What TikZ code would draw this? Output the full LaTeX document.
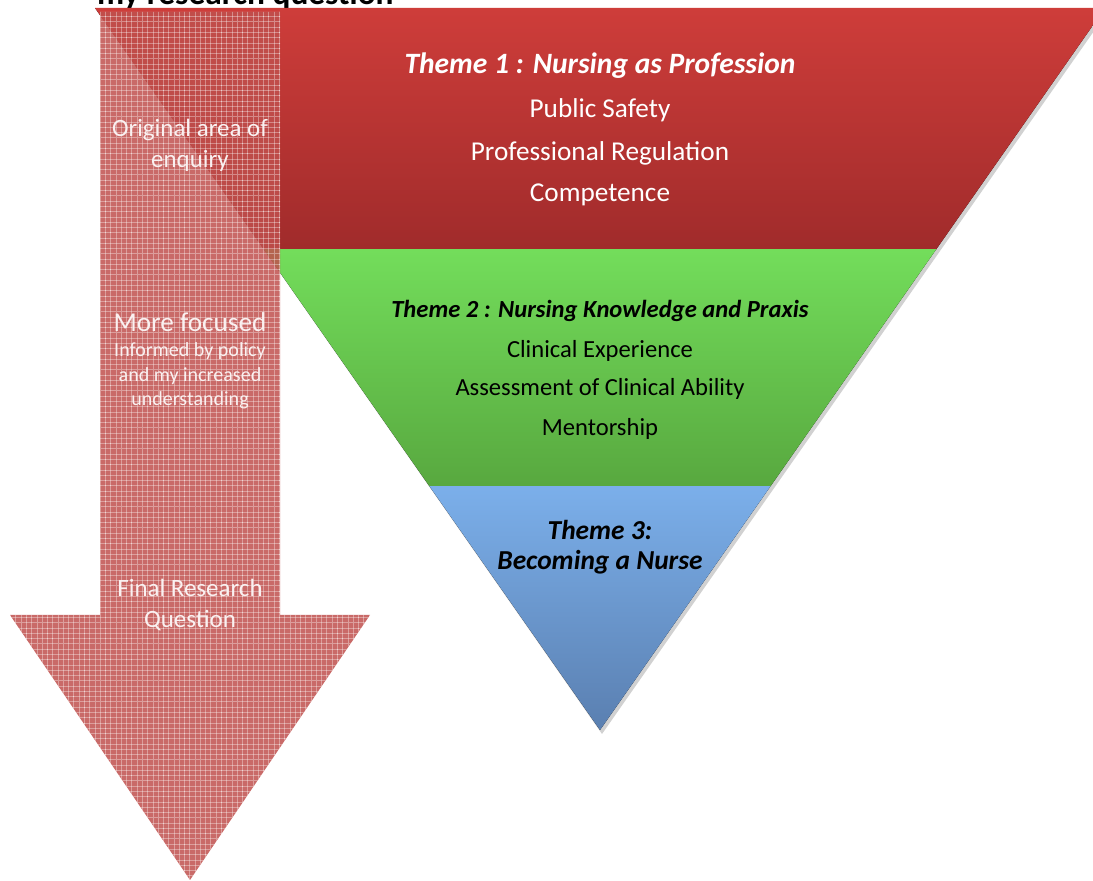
\documentclass[tikz,border=0pt]{standalone}
\usepackage{fontspec}
\setmainfont{Carlito}
\usepackage{tikz}
\usetikzlibrary{positioning, patterns}
\definecolor{redtop}{RGB}{206,61,58}
\definecolor{redbot}{RGB}{160,43,43}
\definecolor{greentop}{RGB}{115,221,91}
\definecolor{greenbot}{RGB}{88,168,63}
\definecolor{bluetop}{RGB}{123,175,234}
\definecolor{bluebot}{RGB}{90,127,176}
\definecolor{arrowred}{RGB}{192,80,77}
\tikzstyle{themetitle} = [font=\fontsize{16.8}{20}\selectfont\bfseries\itshape, inner sep=0pt]
\tikzstyle{redline} = [font=\fontsize{15.5}{19}\selectfont, text=white, inner sep=0pt]
\tikzstyle{greenline} = [font=\fontsize{14}{17}\selectfont, text=black, inner sep=0pt]
\tikzstyle{arrowtext} = [font=\fontsize{14.2}{17}\selectfont, text=white!92!arrowred, inner sep=0pt]
\tikzstyle{arrowsmall} = [font=\fontsize{11.4}{14}\selectfont, text=white!92!arrowred, inner sep=0pt]
\tikzstyle{bigarrow} = [fill=arrowred, opacity=0.85]
\tikzstyle{arrowgrid} = [pattern=grid, pattern color=white, opacity=0.35]

\begin{document}
\begin{tikzpicture}[x=0.02cm, y=-0.02cm]
		\useasboundingbox (0,0) rectangle (1093,881);
		\node (Header) [anchor=base east, inner sep=0pt, font=\fontsize{19}{22}\selectfont\bfseries] at (394,5) {my research question};
		\fill [black, opacity=0.18] (97,11) -- (1108,11) -- (602,734) -- cycle;
		\begin{scope}
			\clip (95,8) -- (1105,8) -- (600,730) -- cycle;
			\fill [top color=redtop, bottom color=redbot] (90,8) rectangle (1110,250);
			\fill [top color=greentop, bottom color=greenbot] (90,250) rectangle (1110,487);
			\fill [top color=bluetop, bottom color=bluebot] (90,487) rectangle (1110,731);
		\end{scope}
		\fill [bigarrow] (100,12) -- (280,12) -- (280,615) -- (370,615) -- (190,880) -- (10,615) -- (100,615) -- cycle;
		\fill [arrowgrid] (100,12) -- (280,12) -- (280,615) -- (370,615) -- (190,880) -- (10,615) -- (100,615) -- cycle;
		\node (ThemeOne) [themetitle, text=white, anchor=base] at (600,74) {Theme 1 : Nursing as Profession};
		\node (PublicSafety) [redline, below = 0.88cm of ThemeOne.base, anchor=base] {Public Safety};
		\node (Regulation) [redline, below = 0.86cm of PublicSafety.base, anchor=base] {Professional Regulation};
		\node (Competence) [redline, below = 0.82cm of Regulation.base, anchor=base] {Competence};
		\node (ThemeTwo) [themetitle, font=\fontsize{14}{17}\selectfont\bfseries\itshape, anchor=base] at (600,318) {Theme 2 : Nursing Knowledge and Praxis};
		\node (Experience) [greenline, below = 0.8cm of ThemeTwo.base, anchor=base] {Clinical Experience};
		\node (Assessment) [greenline, below = 0.76cm of Experience.base, anchor=base] {Assessment of Clinical Ability};
		\node (Mentorship) [greenline, below = 0.8cm of Assessment.base, anchor=base] {Mentorship};
		\node (ThemeThree) [themetitle, font=\fontsize{15.6}{19}\selectfont\bfseries\itshape, anchor=base] at (600,540) {Theme 3:};
		\node (Becoming) [themetitle, font=\fontsize{15.6}{19}\selectfont\bfseries\itshape, below = 0.6cm of ThemeThree.base, anchor=base] {Becoming a Nurse};
		\node (Original) [arrowtext, anchor=base] at (190,137) {Original area of};
		\node (Enquiry) [arrowtext, below = 0.62cm of Original.base, anchor=base] {enquiry};
		\node (Focused) [arrowtext, font=\fontsize{15.5}{19}\selectfont, anchor=base] at (190,332) {More focused};
		\node (Policy) [arrowsmall, below = 0.5cm of Focused.base, anchor=base] {Informed by policy};
		\node (Increased) [arrowsmall, below = 0.5cm of Policy.base, anchor=base] {and my increased};
		\node (Understanding) [arrowsmall, below = 0.48cm of Increased.base, anchor=base] {understanding};
		\node (Final) [arrowtext, anchor=base] at (190,597) {Final Research};
		\node (Question) [arrowtext, below = 0.62cm of Final.base, anchor=base] {Question};
\end{tikzpicture}
\end{document}
